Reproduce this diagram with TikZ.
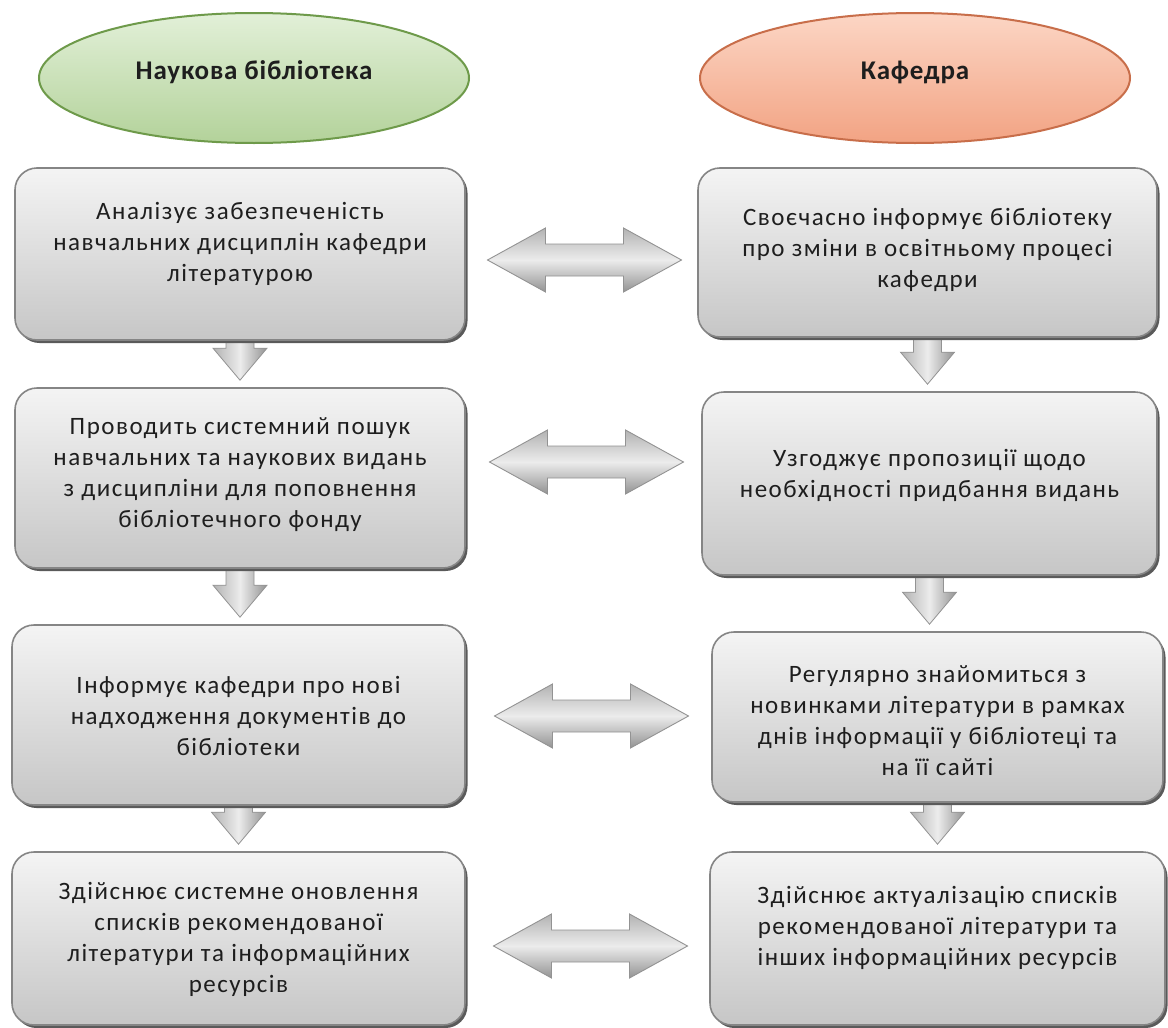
\documentclass[tikz,border=0pt]{standalone}
\usepackage{fontspec}
\setmainfont{Carlito}
\newfontfamily\boxfont[LetterSpace=6]{Carlito}
\newfontfamily\titlefont[LetterSpace=3]{Carlito}
\usetikzlibrary{shapes.geometric,shadows,calc}
\pgfdeclarelayer{background}
\pgfsetlayers{background,main}
\definecolor{txt}{HTML}{1E1E1E}
\definecolor{boxtop}{HTML}{F4F4F4}
\definecolor{boxbot}{HTML}{C6C6C6}
\definecolor{boxedge}{HTML}{858585}
\definecolor{boxshadow}{HTML}{5A5A5A}
\definecolor{grtop}{HTML}{E2F0D8}
\definecolor{grbot}{HTML}{B3D29A}
\definecolor{gredge}{HTML}{6E9A4A}
\definecolor{ortop}{HTML}{FCD6C5}
\definecolor{orbot}{HTML}{F2A383}
\definecolor{oredge}{HTML}{C86E4A}
\newcommand\downarr[2]{%
  \path[downstyle] let \p1=(#1.south), \p2=(#2.north) in
  (\x1-14pt,\y1+6pt) -- (\x1-14pt,\y2+39pt) -- (\x1-27pt,\y2+39pt) -- (\x1,\y2+7pt)
  -- (\x1+27pt,\y2+39pt) -- (\x1+14pt,\y2+39pt) -- (\x1+14pt,\y1+6pt) -- cycle;}
\newcommand\dblarr[3]{%
  \path[dblstyle] let \p1=(#1.east), \p2=(#2.west), \p3=(0,#3) in
  (\x1/2+\x2/2-94pt,\y3) -- (\x1/2+\x2/2-36pt,\y3+32pt) -- (\x1/2+\x2/2-36pt,\y3+16pt)
  -- (\x1/2+\x2/2+42pt,\y3+16pt) -- (\x1/2+\x2/2+42pt,\y3+32pt) -- (\x1/2+\x2/2+100pt,\y3)
  -- (\x1/2+\x2/2+42pt,\y3-32pt) -- (\x1/2+\x2/2+42pt,\y3-16pt) -- (\x1/2+\x2/2-36pt,\y3-16pt)
  -- (\x1/2+\x2/2-36pt,\y3-32pt) -- cycle;}
\begin{document}
\begin{tikzpicture}[x=1pt,y=-1pt,
  box/.style={draw=boxedge, line width=1.6pt, rounded corners=22pt,
    top color=boxtop, bottom color=boxbot, inner sep=0pt,
    drop shadow={shadow xshift=2.5pt, shadow yshift=-3pt, fill=boxshadow, opacity=1}},
  boxtext/.style={align=center, text=txt, inner sep=0pt,
    font=\boxfont\fontsize{25}{31}\selectfont},
  ell/.style={ellipse, line width=2pt, minimum width=430pt, minimum height=130pt,
    inner sep=0pt},
  elltext/.style={text=txt, inner sep=0pt, font=\titlefont\fontsize{27}{32}\selectfont\bfseries},
  downstyle/.style={draw=gray!85, line width=0.8pt, left color=gray!60, right color=gray!85, middle color=gray!15},
  dblstyle/.style={draw=gray!85, line width=0.9pt, top color=gray!60, bottom color=gray!85, middle color=gray!15}]
\begin{pgfonlayer}{background}
\fill[white] (0,0) rectangle (1168,1028);
\end{pgfonlayer}
\path[use as bounding box] (0,0) rectangle (1168,1028);

\node[ell, draw=gredge, top color=grtop, bottom color=grbot] (lib) at (254,78) {};
\node[ell, draw=oredge, top color=ortop, bottom color=orbot] (kaf) at (915,78) {};
\node[elltext] (libt) at ($(lib.center)+(0,-6)$) {Наукова бібліотека};
\node[elltext] (kaft) at ($(kaf.center)+(0,-6)$) {Кафедра};

\node[box, minimum width=450pt, minimum height=172pt] (L1) at (240,254) {};
\node[box, minimum width=450pt, minimum height=180pt] (L2) at (240,478) {};
\node[box, minimum width=453pt, minimum height=180pt] (L3) at (238.5,715) {};
\node[box, minimum width=453pt, minimum height=173pt] (L4) at (238.5,938.5) {};
\node[box, minimum width=459pt, minimum height=169pt] (R1) at (927.5,252.5) {};
\node[box, minimum width=455pt, minimum height=183pt] (R2) at (929.5,483.5) {};
\node[box, minimum width=451pt, minimum height=170pt] (R3) at (937.5,717) {};
\node[box, minimum width=455pt, minimum height=173pt] (R4) at (937.5,938.5) {};

\node[boxtext] (L1t) at ($(L1.center)+(0,-10)$)
  {Аналізує забезпеченість\\навчальних дисциплін кафедри\\літературою};
\node[boxtext] (L2t) at ($(L2.center)+(0,-3)$)
  {Проводить системний пошук\\навчальних та наукових видань\\з дисципліни для поповнення\\бібліотечного фонду};
\node[boxtext] (L3t) at ($(L3.center)+(0,1)$)
  {Інформує кафедри про нові\\надходження документів до\\бібліотеки};
\node[boxtext] (L4t) at ($(L4.center)+(0,1)$)
  {Здійснює системне оновлення\\списків рекомендованої\\літератури та інформаційних\\ресурсів};
\node[boxtext] (R1t) at ($(R1.center)+(0,-3)$)
  {Своєчасно інформує бібліотеку\\про зміни в освітньому процесі\\кафедри};
\node[boxtext] (R2t) at ($(R2.center)+(0,-8)$)
  {Узгоджує пропозиції щодо\\необхідності придбання видань};
\node[boxtext] (R3t) at ($(R3.center)+(0,4)$)
  {Регулярно знайомиться з\\новинками літератури в рамках\\днів інформації у бібліотеці та\\на її сайті};
\node[boxtext] (R4t) at ($(R4.center)+(0,-11)$)
  {Здійснює актуалізацію списків\\рекомендованої літератури та\\інших інформаційних ресурсів};

\begin{pgfonlayer}{background}
\downarr{L1}{L2}
\downarr{L2}{L3}
\downarr{L3}{L4}
\downarr{R1}{R2}
\downarr{R2}{R3}
\downarr{R3}{R4}
\end{pgfonlayer}

\dblarr{L1}{R1}{260}
\dblarr{L2}{R2}{462}
\dblarr{L3}{R3}{716}
\dblarr{L4}{R4}{946}
\end{tikzpicture}
\end{document}
